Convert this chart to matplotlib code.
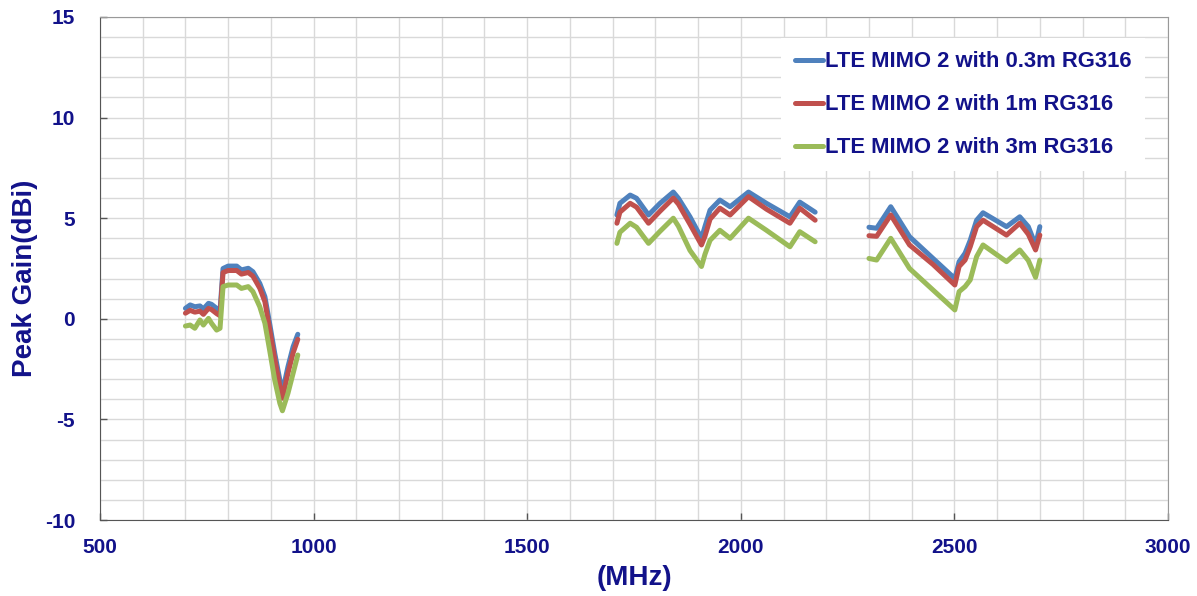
import numpy as np
import matplotlib.pyplot as plt
from matplotlib.ticker import MultipleLocator

# Frequency points (MHz) for each band
freq_low = [700, 711, 722, 734, 742, 754, 761, 773, 781, 788, 800, 820, 831, 847, 858,
            874, 886, 897, 909, 921, 927, 940, 952, 963]
freq_mid = [1710, 1717, 1741, 1756, 1784, 1811, 1842, 1854, 1881, 1908, 1916, 1928,
            1951, 1975, 2018, 2060, 2115, 2138, 2174]
freq_high = [2300, 2318, 2351, 2395, 2450, 2501, 2511, 2525, 2537, 2552, 2567, 2622,
             2653, 2673, 2690, 2700]

# Peak gain (dBi), 0.3m cable
blue_low = [0.52, 0.69, 0.60, 0.64, 0.49, 0.77, 0.72, 0.52, 0.40, 2.50, 2.62, 2.62, 2.43,
            2.51, 2.34, 1.76, 1.10, -0.22, -1.71, -3.04, -3.65, -2.38, -1.39, -0.77]
blue_mid = [5.16, 5.74, 6.15, 5.99, 5.16, 5.74, 6.30, 5.99, 5.07, 4.00, 4.58, 5.40,
            5.90, 5.57, 6.30, 5.74, 5.07, 5.80, 5.30]
blue_high = [4.55, 4.50, 5.57, 4.08, 3.00, 2.00, 2.84, 3.26, 3.90, 4.90, 5.27, 4.58,
             5.07, 4.58, 3.67, 4.58]

# 1m cable
red_low = [0.28, 0.42, 0.33, 0.38, 0.22, 0.52, 0.46, 0.26, 0.15, 2.30, 2.40, 2.40, 2.22,
           2.30, 2.12, 1.52, 0.85, -0.50, -2.00, -3.35, -3.95, -2.70, -1.70, -1.02]
red_mid = [4.75, 5.30, 5.74, 5.55, 4.75, 5.35, 6.00, 5.70, 4.70, 3.67, 4.10, 4.95,
           5.50, 5.16, 6.07, 5.45, 4.75, 5.50, 4.90]
red_high = [4.13, 4.10, 5.16, 3.67, 2.70, 1.68, 2.60, 2.92, 3.58, 4.58, 4.90, 4.16,
            4.75, 4.20, 3.42, 4.16]

# 3m cable
green_low = [-0.36, -0.31, -0.47, -0.06, -0.31, 0.02, -0.22, -0.56, -0.47, 1.60, 1.68, 1.68,
             1.51, 1.60, 1.35, 0.60, -0.22, -1.55, -3.04, -4.20, -4.57, -3.70, -2.71, -1.80]
green_mid = [3.75, 4.30, 4.75, 4.55, 3.75, 4.35, 5.00, 4.60, 3.40, 2.60, 3.20, 3.90,
             4.40, 4.00, 5.00, 4.40, 3.58, 4.33, 3.83]
green_high = [3.00, 2.92, 4.00, 2.50, 1.43, 0.44, 1.35, 1.60, 1.93, 3.09, 3.67, 2.84,
              3.42, 2.90, 2.06, 2.92]

labels = ['LTE MIMO 2 with 0.3m RG316', 'LTE MIMO 2 with 1m RG316', 'LTE MIMO 2 with 3m RG316']
colors = ['#4F81BD', '#C0504D', '#9BBB59']
txt = '#12128A'

plt.rcParams['font.family'] = ['Liberation Sans', 'DejaVu Sans']
plt.rcParams['font.weight'] = 'bold'
plt.rcParams['axes.unicode_minus'] = False

fig = plt.figure(figsize=(11.97, 5.96), dpi=100)
ax = fig.add_axes([100/1197, 76/596, 1068/1197, 503/596])

series = [(blue_low, blue_mid, blue_high), (red_low, red_mid, red_high),
          (green_low, green_mid, green_high)]
for (lo, mi, hi), lab, c in zip(series, labels, colors):
    kw = dict(color=c, lw=3.6, solid_joinstyle='round', solid_capstyle='round')
    ax.plot(freq_low, lo, label=lab, **kw)
    ax.plot(freq_mid, mi, **kw)
    ax.plot(freq_high, hi, **kw)

ax.set_xlim(500, 3000)
ax.set_ylim(-10, 15)
ax.xaxis.set_major_locator(MultipleLocator(500))
ax.xaxis.set_minor_locator(MultipleLocator(100))
ax.yaxis.set_major_locator(MultipleLocator(5))
ax.yaxis.set_minor_locator(MultipleLocator(1))
ax.grid(which='both', color='#D9D9D9', lw=1.0)
ax.set_axisbelow(True)

ax.tick_params(which='major', direction='in', length=5, width=1, color='#555555',
               labelsize=15, labelcolor=txt)
ax.tick_params(which='minor', length=0)
ax.tick_params(axis='y', pad=18)
ax.tick_params(axis='x', pad=13)
for lab in ax.get_xticklabels() + ax.get_yticklabels():
    lab.set_fontweight('bold')

for side in ['left', 'bottom']:
    ax.spines[side].set_color('#555555')
for side in ['top', 'right']:
    ax.spines[side].set_color('#999999')

ax.set_xlabel('(MHz)', fontsize=20, fontweight='bold', color=txt)
ax.set_ylabel('Peak Gain(dBi)', fontsize=20, fontweight='bold', color=txt)
ax.xaxis.set_label_coords(0.5, -0.09)
ax.yaxis.set_label_coords(-0.058, 0.48)

leg = ax.legend(loc='upper right', bbox_to_anchor=(0.9785, 0.958), borderaxespad=0,
                fontsize=15.8, frameon=True, fancybox=False, framealpha=1,
                edgecolor='none', facecolor='white', handlelength=1.3,
                handletextpad=0.1, labelspacing=1.0, borderpad=0.6)
for t in leg.get_texts():
    t.set_color(txt)
    t.set_fontweight('bold')

fig.savefig('out.png', dpi=100)
